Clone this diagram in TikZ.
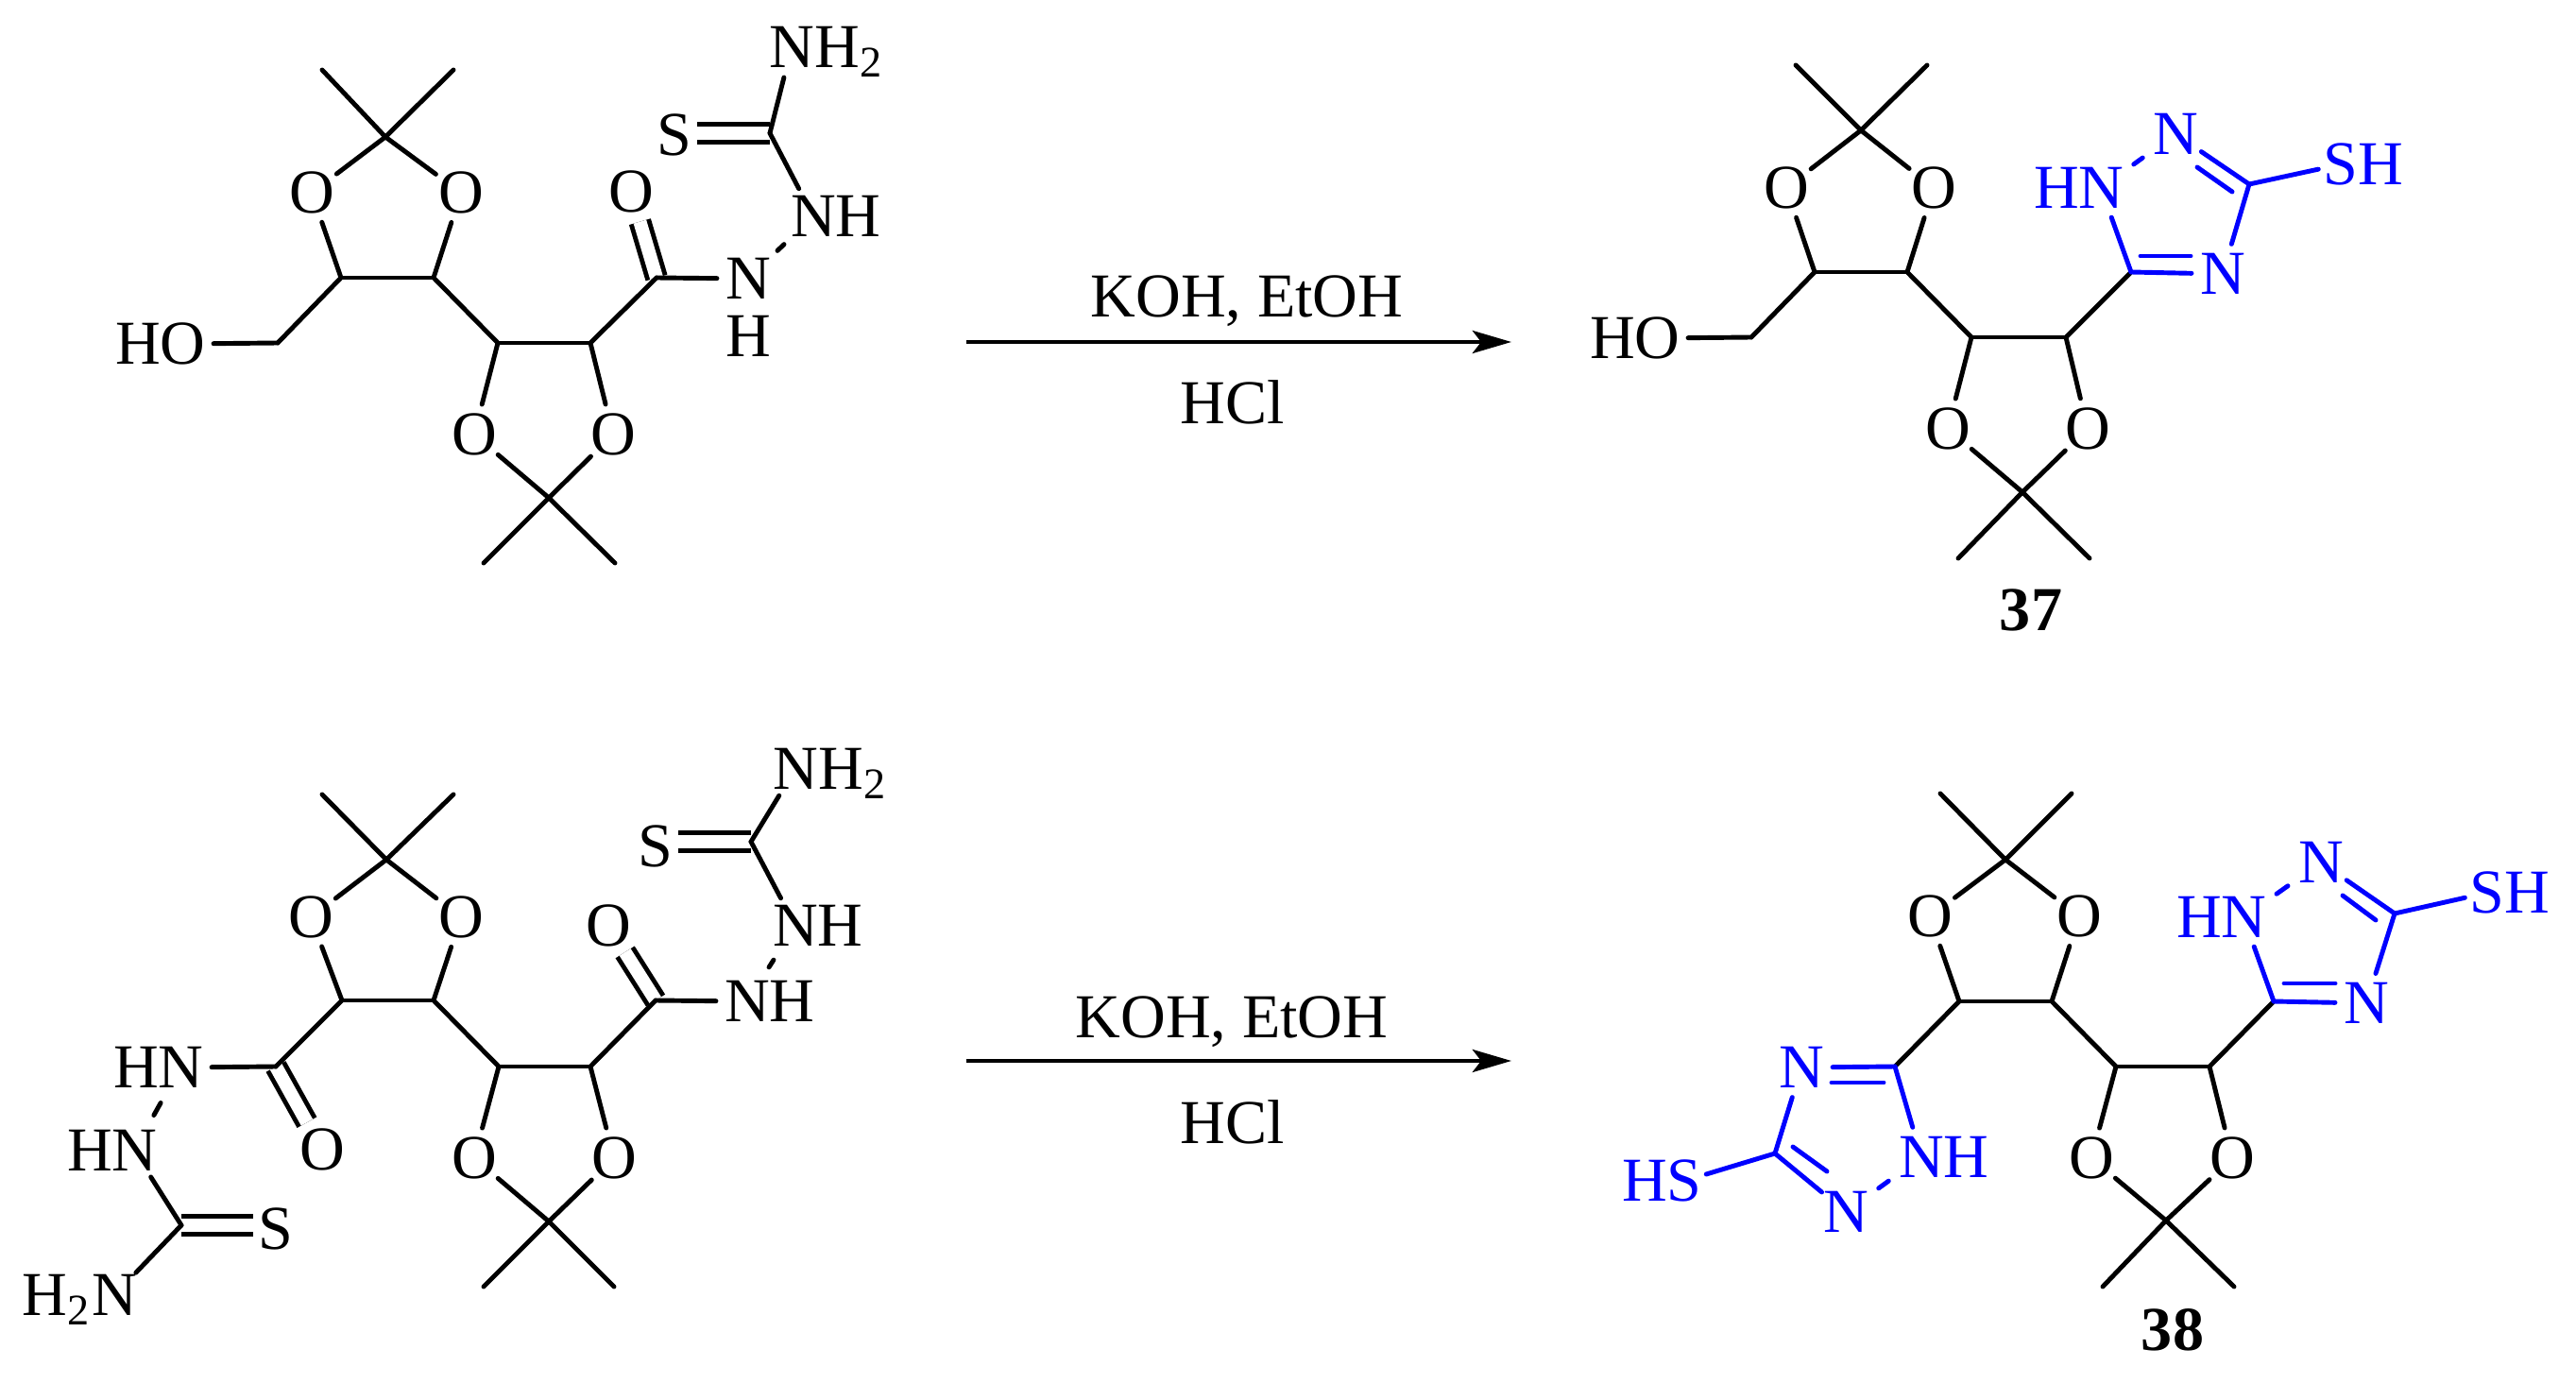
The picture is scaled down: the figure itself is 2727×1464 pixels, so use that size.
\documentclass[tikz,border=0pt]{standalone}
\usepackage{fontspec}
\setmainfont{Liberation Serif}
\usetikzlibrary{arrows.meta}
\definecolor{tzblue}{RGB}{0,0,255}
\tikzset{
  atom/.style={circle,inner sep=0pt,text height=12.4pt,text depth=0pt,font=\fontsize{18.8}{22}\selectfont},
  tzatom/.style={atom,text=tzblue},
  sub/.style={inner sep=0pt,text height=12.4pt,text depth=0pt,font=\fontsize{18.8}{22}\selectfont},
  lbl/.style={inner sep=0pt,font=\fontsize{18.8}{22}\selectfont},
  bond/.style={line width=1.4pt,line cap=round},
  tzbond/.style={bond,draw=tzblue},
  nnbond/.style={shorten <=2.8pt,shorten >=2.8pt},
  dbl/.style={line width=1.4pt,double=white,double distance=4pt},
  rxn/.style={line width=1.4pt,-{Stealth[length=11.7pt,width=6.8pt,inset=2.6pt]}},
}
\begin{document}
\begin{tikzpicture}[x=0.01cm,y=-0.01cm]
\useasboundingbox (0,0) rectangle (2727,1464);

% carbons
\foreach \n/\x/\y in {aC1/408/145,aMe1/341/74,aMe2/480/74,aC2/361/294,aC3/459/294,aC0/294/363,aC4/527/363,aC5/625/363,aC6/581/527,aMe3/512/596,aMe4/651/596,aC7/695/294,aCs/815/141,aSb/738/141,
  bC1/409/910,bMe1/341/841,bMe2/480/841,bC2/362/1059,bC3/459/1059,bC4/528/1129,bC5/625/1129,bC6/581/1293,bMe3/512/1362,bMe4/650/1362,bC7/694/1059,bCs/795/891,bSb/718/891,bC8/292/1129,bCr/192/1297,bTb/268/1297,
  cC1/1970/138,cMe1/1901/69,cMe2/2040/69,cC2/1921/288,cC3/2019/288,cC0/1854/357,cC4/2087/357,cC5/2187/357,cC6/2141/521,cMe3/2073/591,cMe4/2212/591,cCt/2256/288,cCq/2381/195,
  dC1/2123/910,dMe1/2054/840,dMe2/2193/840,dC2/2074/1060,dC3/2172/1060,dC4/2240/1129,dC5/2339/1129,dC6/2293/1292,dMe3/2226/1362,dMe4/2365/1362,dCt/2407/1060,dCq/2535/967,dCu/2006/1129,dCv/1879/1221}
  \coordinate (\n) at (\x,\y);

% black atoms
\foreach \n/\x/\y/\t in {aO1/330/204/O,aO2/488/204/O,aO3/502/460/O,aO4/649/460/O,aO5/668/203/O,aOH/193/364/O,aHO/146/364/H,aN1/792/295/N,aH1/792/356/H,aN2/861/229/N,aH2/908/229/H,aN3/838/50/N,
  bO1/329/971/O,bO2/488/971/O,bO3/502/1226/O,bO4/650/1226/O,bO5/644/980/O,bO6/341/1217/O,bN1/791/1060/N,bH1/838/1060/H,bN2/842/980/N,bH2/889/980/H,bN3/842/814/N,bN4/191/1130/N,bH4/144/1130/H,bN5/142/1218/N,bH5/95/1218/H,bN6/121/1371/N,
  cO1/1891/199/O,cO2/2047/199/O,cO3/2062/454/O,cO4/2210/454/O,cOH/1754/358/O,cHO/1707/358/H,
  dO1/2043/970/O,dO2/2201/970/O,dO3/2214/1226/O,dO4/2363/1226/O}
  \node[atom] (\n) at (\x,\y) {\t};
\node[atom] (aS) at (714,143) {S};
\node[atom] (bS) at (694,896) {S};
\node[atom] (bT) at (292,1301) {S};
\node[sub,anchor=west] (aH3) at (862,50) {H\textsubscript{2}};
\node[sub,anchor=west] (bH3) at (866,814) {H\textsubscript{2}};
\node[sub,anchor=east] (bH6) at (97,1371) {H\textsubscript{2}};

% blue atoms
\foreach \n/\x/\y/\t in {cN1/2224/199/N,cH1/2177/199/H,cN2/2303/142/N,cN3/2353/290/N,cSH/2520/174/H,
  dN1/2375/971/N,dH1/2328/971/H,dN2/2457/913/N,dN3/2505/1062/N,dSH/2675/945/H,
  dN4/1907/1130/N,dN5/2034/1225/N,dH5/2081/1225/H,dN6/1954/1283/N,dHS/1741/1250/H}
  \node[tzatom] (\n) at (\x,\y) {\t};
\node[tzatom,outer sep=-1.2pt] (cS) at (2478,174) {S};
\node[tzatom,outer sep=-1.2pt] (dS) at (2633,945) {S};
\node[tzatom,outer sep=-1.2pt] (dT) at (1783,1250) {S};

% double bonds
\foreach \a/\b in {aC7/aO5,aCs/aSb,bC7/bO5,bCs/bSb,bC8/bO6,bCr/bTb}
  \draw[dbl] (\a) -- (\b);

% single bonds
\foreach \a/\b in {aC1/aMe1,aC1/aMe2,aC1/aO1,aC1/aO2,aO1/aC2,aO2/aC3,aC2/aC3,aC2/aC0,aC0/aOH,aC3/aC4,aC4/aC5,aC4/aO3,aC5/aO4,aO3/aC6,aO4/aC6,aC6/aMe3,aC6/aMe4,aC5/aC7,aC7/aN1,aCs/aN2,aCs/aN3,
  bC1/bMe1,bC1/bMe2,bC1/bO1,bC1/bO2,bO1/bC2,bO2/bC3,bC2/bC3,bC2/bC8,bC3/bC4,bC4/bC5,bC4/bO3,bC5/bO4,bO3/bC6,bO4/bC6,bC6/bMe3,bC6/bMe4,bC5/bC7,bC7/bN1,bCs/bN2,bCs/bN3,bC8/bN4,bCr/bN5,bCr/bN6,
  cC1/cMe1,cC1/cMe2,cC1/cO1,cC1/cO2,cO1/cC2,cO2/cC3,cC2/cC3,cC2/cC0,cC0/cOH,cC3/cC4,cC4/cC5,cC4/cO3,cC5/cO4,cO3/cC6,cO4/cC6,cC6/cMe3,cC6/cMe4,cC5/cCt,
  dC1/dMe1,dC1/dMe2,dC1/dO1,dC1/dO2,dO1/dC2,dO2/dC3,dC2/dC3,dC2/dCu,dC3/dC4,dC4/dC5,dC4/dO3,dC5/dO4,dO3/dC6,dO4/dC6,dC6/dMe3,dC6/dMe4,dC5/dCt}
  \draw[bond] (\a) -- (\b);
\foreach \a/\b in {aN1/aN2,bN1/bN2,bN4/bN5}
  \draw[bond,nnbond] (\a) -- (\b);

% triazole rings
\foreach \a/\b in {cCt/cN1,cCt/cN3,cCq/cN3,cCq/cN2,cCq/cS,dCt/dN1,dCt/dN3,dCq/dN3,dCq/dN2,dCq/dS,dCu/dN4,dCu/dN5,dCv/dN4,dCv/dN6,dCv/dT}
  \draw[tzbond] (\a) -- (\b);
\foreach \a/\b in {cN1/cN2,dN1/dN2,dN5/dN6}
  \draw[tzbond,nnbond] (\a) -- (\b);

% inner lines of the C=N bonds
\foreach \n/\x/\y/\m/\u/\v in {cp/2266/271/cq/2319/271,cr/2326/177/cs/2363/203,dp/2418/1041/dq/2472/1041,dr/2480/948/ds/2515/974,up/1939/1146/uq/1994/1146,ur/1898/1214/us/1934/1240}{
  \coordinate (\n) at (\x,\y);
  \coordinate (\m) at (\u,\v);
  \draw[tzbond] (\n) -- (\m);
}

% reactions
\coordinate (arrAs) at (1023,362);
\coordinate (arrAe) at (1600,362);
\coordinate (arrBs) at (1023,1123);
\coordinate (arrBe) at (1600,1123);
\draw[rxn] (arrAs) -- (arrAe);
\draw[rxn] (arrBs) -- (arrBe);
\node[lbl] (koha) at (1320,319) {KOH, EtOH};
\node[lbl] (hcla) at (1305,426) {HCl};
\node[lbl] (kohb) at (1304,1082) {KOH, EtOH};
\node[lbl] (hclb) at (1305,1188) {HCl};
\node[lbl] (lab37) at (2150,646) {\textbf{37}};
\node[lbl] (lab38) at (2300,1408) {\textbf{38}};
\end{tikzpicture}
\end{document}
